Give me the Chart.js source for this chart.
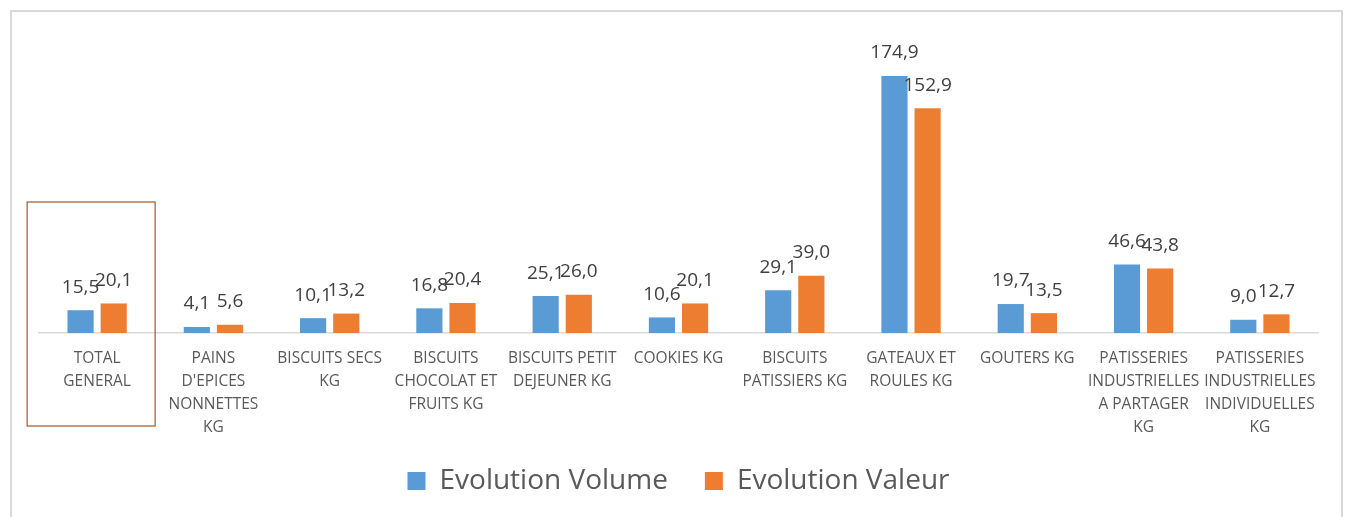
<!DOCTYPE html>
<html>
<head>
<meta charset="utf-8">
<script src="https://cdn.jsdelivr.net/npm/chart.js@4"></script>
<style>
    html, body { margin: 0; padding: 0; background: #fff; }
    #wrap { position: relative; width: 1348px; height: 517px; overflow: hidden; }
    #frame { position: absolute; left: 10px; top: 10px; width: 1333px; height: 530px; border: 2px solid #d9d9d9; box-sizing: border-box; pointer-events: none; }
</style>
</head>
<body>
<div id="wrap">
    <canvas id="chart" width="1348" height="517"></canvas>
    <div id="frame"></div>
</div>
<script>
// Evolution volume / valeur par famille
const categories = [
    ['TOTAL', 'GENERAL'],
    ['PAINS', "D'EPICES", 'NONNETTES', 'KG'],
    ['BISCUITS SECS', 'KG'],
    ['BISCUITS', 'CHOCOLAT ET', 'FRUITS KG'],
    ['BISCUITS PETIT', 'DEJEUNER KG'],
    ['COOKIES KG'],
    ['BISCUITS', 'PATISSIERS KG'],
    ['GATEAUX ET', 'ROULES KG'],
    ['GOUTERS KG'],
    ['PATISSERIES', 'INDUSTRIELLES', 'A PARTAGER', 'KG'],
    ['PATISSERIES', 'INDUSTRIELLES', 'INDIVIDUELLES', 'KG']
];
const evolutionVolume = [15.5, 4.1, 10.1, 16.8, 25.1, 10.6, 29.1, 174.9, 19.7, 46.6, 9.0];
const evolutionValeur = [20.1, 5.6, 13.2, 20.4, 26.0, 20.1, 39.0, 152.9, 13.5, 43.8, 12.7];

const COLORS = { blue: '#5b9bd5', orange: '#ed7d31', text: '#595959', label: '#404040', axis: '#d9d9d9', box: '#a6561c' };
const FONT = "'Open Sans', sans-serif";

const fmt = v => v.toFixed(1).replace('.', ',');

// value labels above each bar
const valueLabels = {
    id: 'valueLabels',
    afterDatasetsDraw(chart) {
        const ctx = chart.ctx;
        ctx.save();
        ctx.font = `19px ${FONT}`;
        ctx.fillStyle = COLORS.label;
        ctx.textAlign = 'center';
        ctx.textBaseline = 'middle';
        chart.data.datasets.forEach((ds, di) => {
            chart.getDatasetMeta(di).data.forEach((bar, i) => {
                ctx.fillText(fmt(ds.data[i]), bar.x, bar.y - 23);
            });
        });
        ctx.restore();
    }
};

// highlight frame around the first category
const highlightBox = {
    id: 'highlightBox',
    afterLayout(chart) {
        // let the multi-line tick labels run under the legend without clipping
        chart.scales.x.bottom = chart.height;
    },
    afterDraw(chart) {
        const x = chart.scales.x, area = chart.chartArea;
        const cx = x.getPixelForValue(0);
        const ctx = chart.ctx;
        ctx.save();
        ctx.strokeStyle = COLORS.box;
        ctx.lineWidth = 1.2;
        ctx.strokeRect(cx - 70, area.bottom - 131, 128, 224);
        ctx.restore();
    }
};

new Chart(document.getElementById('chart'), {
    type: 'bar',
    data: {
        labels: categories,
        datasets: [
            { label: 'Evolution Volume', data: evolutionVolume, backgroundColor: COLORS.blue, categoryPercentage: 0.57, barPercentage: 0.79 },
            { label: 'Evolution Valeur', data: evolutionValeur, backgroundColor: COLORS.orange, categoryPercentage: 0.57, barPercentage: 0.79 }
        ]
    },
    options: {
        responsive: false,
        animation: false,
        layout: { padding: { left: 39, right: 30, top: 39, bottom: 12 } },
        plugins: {
            legend: {
                position: 'bottom',
                labels: { color: COLORS.text, font: { family: FONT, size: 28 }, boxWidth: 18, boxHeight: 18, padding: 37 }
            },
            tooltip: { enabled: false }
        },
        scales: {
            x: {
                grid: { display: false, drawTicks: false },
                border: { display: true, color: COLORS.axis, width: 1.5 },
                ticks: { color: COLORS.text, font: { family: FONT, size: 15.5, lineHeight: '23px' }, padding: 14, maxRotation: 0, autoSkip: false },
                afterFit(s) { s.height = 97; }
            },
            y: { display: false, min: 0, max: 200 }
        }
    },
    plugins: [valueLabels, highlightBox]
});
</script>
</body>
</html>
